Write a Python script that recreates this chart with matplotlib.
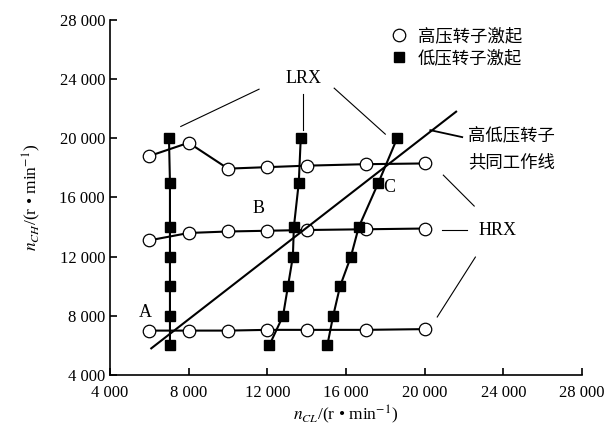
"""Critical speed map of a dual-rotor system (HRX / LRX excitation)."""

import matplotlib
matplotlib.use("Agg")
import matplotlib.pyplot as plt
from matplotlib.lines import Line2D

plt.rcParams["font.family"] = ["Liberation Serif", "Noto Sans CJK SC"]
plt.rcParams["mathtext.fontset"] = "stix"

# high-pressure rotor excited (circles), three HRX branches
hp_x = [6000, 8000, 10000, 12000, 14000, 17000, 20000]
hp_low = [7000, 7000, 7000, 7050, 7050, 7050, 7100]
hp_mid = [13100, 13600, 13700, 13750, 13800, 13850, 13900]
hp_top = [18800, 19700, 17950, 18050, 18150, 18250, 18300]

# low-pressure rotor excited (squares), three LRX branches
lp_y = [6000, 8000, 10000, 12000, 14000, 17000, 20000]
lp_a = [7050, 7050, 7050, 7050, 7050, 7050, 7000]
lp_b = [12100, 12800, 13050, 13300, 13350, 13600, 13700]
lp_c = [15050, 15350, 15700, 16250, 16650, 17650, 18600]

# common working line of both rotors
work_x = [6100, 21600]
work_y = [5800, 21800]

ticks = [4000, 8000, 12000, 16000, 20000, 24000, 28000]
tick_labels = ["4 000", "8 000", "12 000", "16 000", "20 000", "24 000", "28 000"]

fig = plt.figure(figsize=(6.13, 4.34), dpi=100)
ax = fig.add_axes([0.1794, 0.136, 0.770, 0.818])

lw = 1.5
for row in (hp_low, hp_mid, hp_top):
    ax.plot(hp_x, row, color="black", lw=lw, marker="o", ms=9,
            mfc="white", mec="black", mew=0.9, zorder=2)
for col in (lp_a, lp_b, lp_c):
    ax.plot(col, lp_y, color="black", lw=lw, marker="s", ms=6.5,
            mfc="black", mec="black", zorder=3)
ax.plot(work_x, work_y, color="black", lw=lw, zorder=4)

# leader lines
thin = dict(color="black", lw=0.8)
ax.plot([7600, 11580], [20800, 23320], **thin)
ax.plot([13820, 13820], [20550, 22990], **thin)
ax.plot([15400, 18000], [23390, 20280], **thin)
ax.plot([20950, 22520], [17510, 15420], **thin)
ax.plot([20900, 22170], [13800, 13800], **thin)
ax.plot([22580, 20640], [11970, 7920], **thin)
ax.plot([20290, 21910], [20550, 20080], color="black", lw=1.3)

ax.text(13820, 24070, "LRX", ha="center", va="center", fontsize=13)
ax.text(22730, 13800, "HRX", ha="left", va="center", fontsize=13)
ax.text(22220, 20080, "高低压转子", ha="left", va="center", fontsize=12.5)
ax.text(22220, 18320, "共同工作线", ha="left", va="center", fontsize=12.5)
ax.text(5780, 8190, "A", ha="center", va="center", fontsize=13)
ax.text(11530, 15280, "B", ha="center", va="center", fontsize=13)
ax.text(17900, 16700, "C", ha="left", va="center", fontsize=13, zorder=5)

handles = [
    Line2D([], [], ls="none", marker="o", ms=9, mfc="white", mec="black", mew=0.9),
    Line2D([], [], ls="none", marker="s", ms=6.5, mfc="black", mec="black"),
]
ax.legend(handles, ["高压转子激起", "低压转子激起"], loc="upper left",
          bbox_to_anchor=(0.56, 1.02), frameon=False, fontsize=12.5,
          handlelength=1.0, handletextpad=0.6, labelspacing=0.3)

ax.set_xlim(4000, 28000)
ax.set_ylim(4000, 28000)
ax.set_xticks(ticks)
ax.set_xticklabels(tick_labels)
ax.set_yticks(ticks)
ax.set_yticklabels(tick_labels)
ax.tick_params(direction="in", length=5, width=1.2, labelsize=12)
ax.tick_params(axis="x", pad=7)
for side in ("top", "right"):
    ax.spines[side].set_visible(False)
for side in ("left", "bottom"):
    ax.spines[side].set_linewidth(1.2)

ax.set_xlabel(r"$n_{CL}$/(r • min$^{-1}$)", fontsize=12.5, labelpad=2)
ax.set_ylabel(r"$n_{CH}$/(r • min$^{-1}$)", fontsize=12.5, labelpad=12)

fig.savefig("out.png", dpi=100)
